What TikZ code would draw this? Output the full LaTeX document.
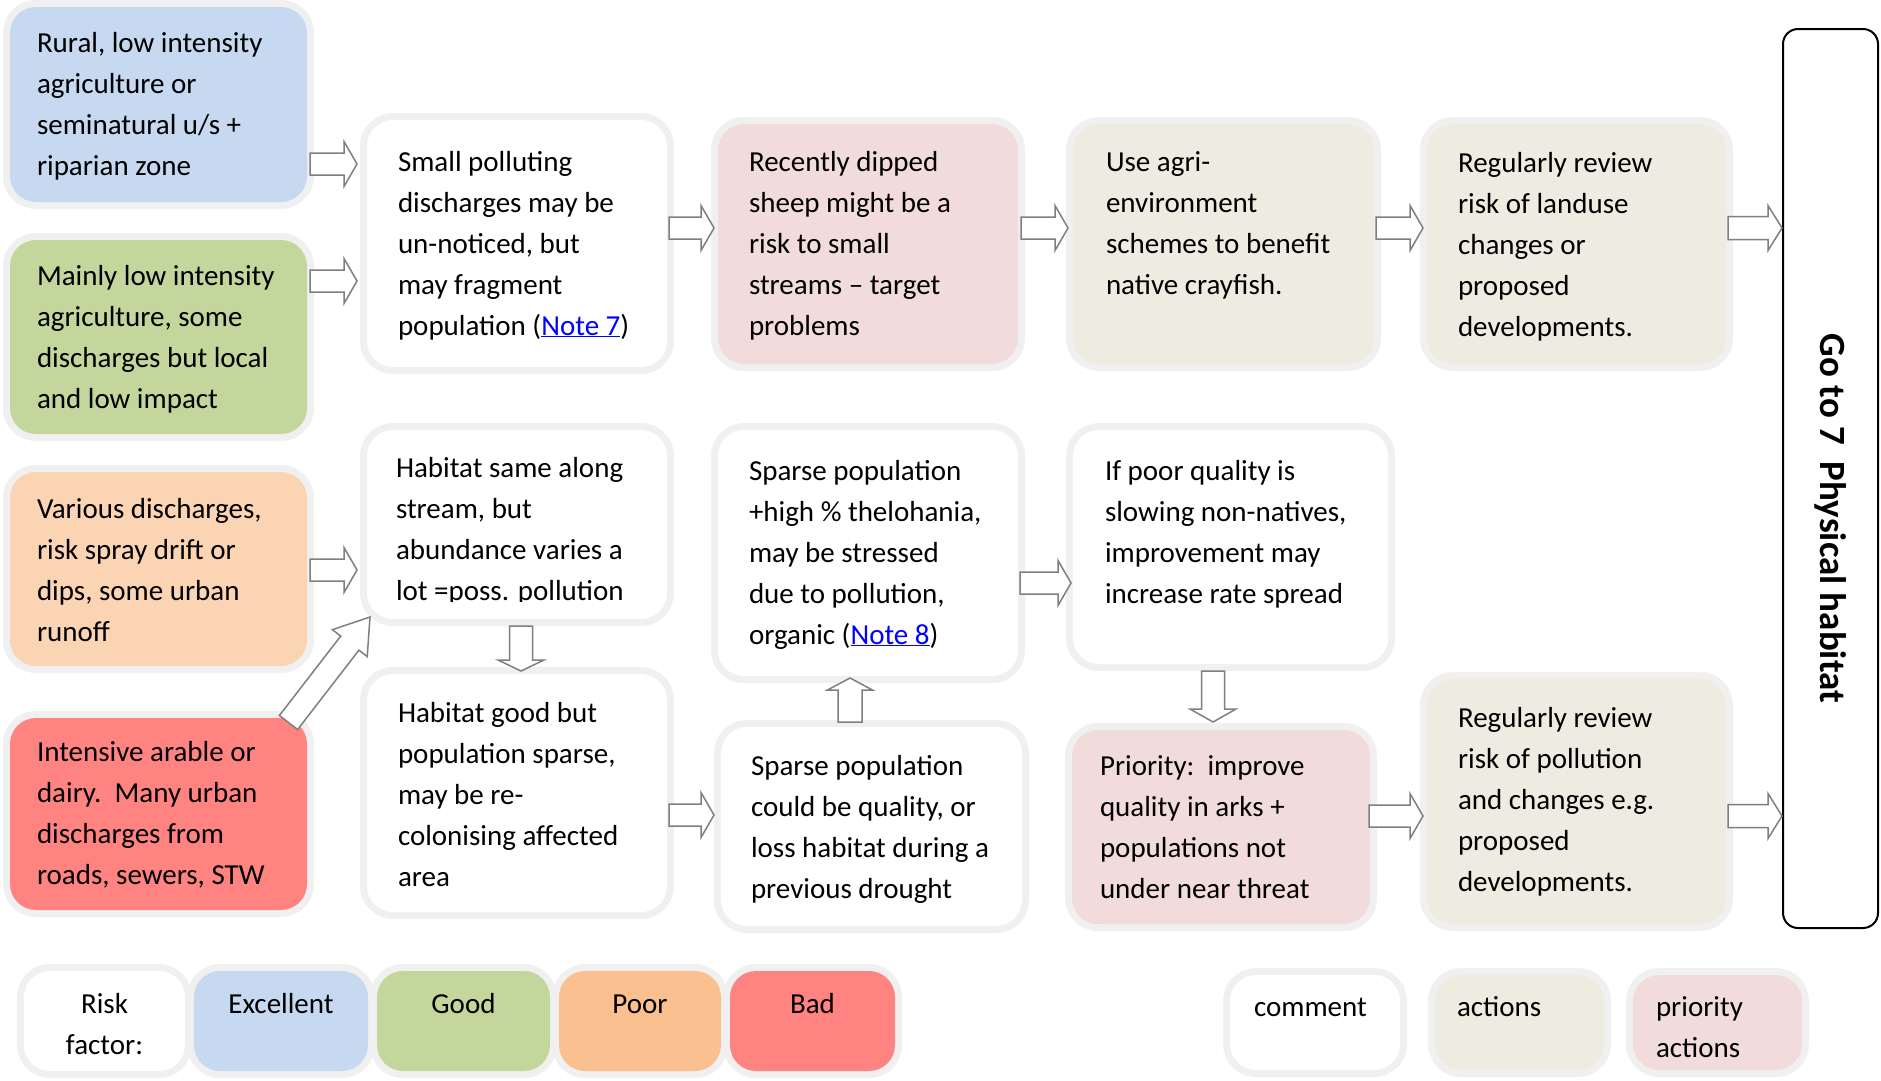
\documentclass[tikz,border=0pt]{standalone}
\usepackage{fontspec}
\setmainfont{Carlito}
\usepackage{graphicx}
\usetikzlibrary{calc}

\definecolor{framegrey}{HTML}{F0F0F0}
\definecolor{arrowgrey}{HTML}{7F7F7F}
\definecolor{cexcellent}{HTML}{C6D9F1}
\definecolor{cgood}{HTML}{C3D69B}
\definecolor{cpoorbox}{HTML}{FBD4B4}
\definecolor{cpoor}{HTML}{FAC090}
\definecolor{cbad}{HTML}{FF8481}
\definecolor{cpriority}{HTML}{F2DCDB}
\definecolor{caction}{HTML}{EEECE1}
\definecolor{linkblue}{HTML}{0000FF}

% text block of a panel: width, height, left padding, first baseline, text
\newcommand\boxtext[5]{\parbox[c][#2][t]{#1}{\raggedright\leftskip=#3\relax
  \vspace*{\dimexpr#4-\ht\strutbox\relax}\strut#5}}
% centred variant: width, height, first baseline, text
\newcommand\boxtextc[4]{\parbox[c][#2][t]{#1}{\centering
  \vspace*{\dimexpr#3-\ht\strutbox\relax}\strut#4}}
\newcommand\lnk[1]{\textcolor{linkblue}{\underline{#1}}}

% block arrow: half shaft, half head, head length, start, end
\newcommand\blockarrow[5]{%
  \coordinate (ba-s) at #4;
  \coordinate (ba-e) at #5;
  \coordinate (ba-c) at ($(ba-e)!#3!(ba-s)$);
  \draw[blockarr] ($(ba-s)!#1!90:(ba-e)$) -- ($(ba-c)!#1!90:(ba-e)$)
    -- ($(ba-c)!#2!90:(ba-e)$) -- (ba-e) -- ($(ba-c)!#2!-90:(ba-e)$)
    -- ($(ba-c)!#1!-90:(ba-e)$) -- ($(ba-s)!#1!-90:(ba-e)$) -- cycle;}

\tikzset{
  paneltext/.style={rectangle, inner sep=0pt, outer sep=0pt,
    anchor=north west, font=\fontsize{29}{41}\selectfont},
  panel/.style={paneltext, rounded corners=26pt,
    preaction={draw=framegrey, line width=14pt}},
  gobox/.style={rectangle, rounded corners=15pt, draw=black, line width=2pt,
    fill=white, inner sep=0pt, anchor=north west,
    font=\bfseries\fontsize{37}{44}\selectfont},
  blockarr/.style={draw=arrowgrey, fill=white, line width=1.5pt, line join=miter},
}

\begin{document}
\begin{tikzpicture}[x=1pt, y=-1pt]
\useasboundingbox (0,0) rectangle (1881,1080);
\fill[white] (0,0) rectangle (1881,1080);

% risk factor column
\node[panel, fill=cexcellent] (rural) at (10,7)
  {\boxtext{297pt}{195pt}{27pt}{45pt}{Rural, low intensity\\agriculture or\\seminatural u/s +\\riparian zone}};
\node[panel, fill=cgood] (mainly) at (10,240)
  {\boxtext{297pt}{194pt}{27pt}{45pt}{Mainly low intensity\\agriculture, some\\discharges but local\\and low impact}};
\node[panel, fill=cpoorbox] (various) at (10,472)
  {\boxtext{297pt}{194pt}{27pt}{46pt}{Various discharges,\\risk spray drift or\\dips, some urban\\runoff}};
\node[panel, fill=cbad] (intensive) at (10,718)
  {\boxtext{297pt}{192pt}{27pt}{43pt}{Intensive arable or\\dairy.\ \ Many urban\\discharges from\\roads, sewers, STW}};

% comments
\node[panel, fill=white] (small) at (367,120)
  {\boxtext{300pt}{247pt}{31pt}{51pt}{Small polluting\\discharges may be\\un-noticed, but\\may fragment\\population (\lnk{Note 7})}};
\node[panel, fill=white, minimum width=300pt, minimum height=189pt] (hsame) at (367,430) {};
\begin{scope}
  % the last line of this text runs past the text frame and is cut off
  \clip (367,430) rectangle (667,601);
  \node[paneltext] (hsametext) at (hsame.north west)
    {\boxtext{300pt}{189pt}{29pt}{47pt}{Habitat same along\\stream, but\\abundance varies a\\lot =poss. pollution}};
\end{scope}
\node[panel, fill=white] (hgood) at (367,674)
  {\boxtext{300pt}{238pt}{31pt}{48pt}{Habitat good but\\population sparse,\\may be re-\\colonising affected\\area}};

\node[panel, fill=cpriority] (dipped) at (718,124)
  {\boxtext{300pt}{240pt}{31pt}{47pt}{Recently dipped\\sheep might be a\\risk to small\\streams -- target\\problems}};
\node[panel, fill=white] (sparse1) at (718,430)
  {\boxtext{300pt}{246pt}{31pt}{50pt}{Sparse population\\+high \% thelohania,\\may be stressed\\due to pollution,\\organic (\lnk{Note 8})}};
\node[panel, fill=white] (sparse2) at (721,727)
  {\boxtext{301pt}{199pt}{30pt}{48pt}{Sparse population\\could be quality, or\\loss habitat during a\\previous drought}};

\node[panel, fill=caction] (agri) at (1073,124)
  {\boxtext{301pt}{240pt}{33pt}{47pt}{Use agri-\\environment\\schemes to benefit\\native crayfish.}};
\node[panel, fill=white] (ifpoor) at (1073,430)
  {\boxtext{315pt}{234pt}{32pt}{50pt}{If poor quality is\\slowing non-natives,\\improvement may\\increase rate spread}};
\node[panel, fill=cpriority] (priority) at (1072,730)
  {\boxtext{298pt}{194pt}{28pt}{45pt}{Priority:\ \ improve\\quality in arks +\\populations not\\under near threat}};

\node[panel, fill=caction] (review1) at (1427,124)
  {\boxtext{299pt}{240pt}{31pt}{48pt}{Regularly review\\risk of landuse\\changes or\\proposed\\developments.}};
\node[panel, fill=caction] (review2) at (1427,679)
  {\boxtext{299pt}{245pt}{31pt}{48pt}{Regularly review\\risk of pollution\\and changes e.g.\\proposed\\developments.}};

\node[gobox, minimum width=95pt, minimum height=899pt] (goto) at (1782,28)
  {\rotatebox{-90}{\hspace*{80pt}Go to 7\ \ Physical habitat}};

% legends
\node[panel, fill=white] (lrisk) at (24,971) {\boxtextc{161pt}{100pt}{42pt}{Risk\\factor:}};
\node[panel, fill=cexcellent] (lexc) at (194,971) {\boxtextc{174pt}{100pt}{42pt}{Excellent}};
\node[panel, fill=cgood] (lgood) at (377,971) {\boxtextc{173pt}{100pt}{42pt}{Good}};
\node[panel, fill=cpoor] (lpoor) at (559,971) {\boxtextc{162pt}{100pt}{42pt}{Poor}};
\node[panel, fill=cbad] (lbad) at (730,971) {\boxtextc{165pt}{100pt}{42pt}{Bad}};

\node[panel, fill=white] (lcomment) at (1230,975) {\boxtext{170pt}{95pt}{24pt}{41pt}{comment}};
\node[panel, fill=caction] (laction) at (1435,975) {\boxtext{169pt}{95pt}{22pt}{41pt}{actions}};
\node[panel, fill=cpriority] (lprio) at (1633,975) {\boxtext{169pt}{95pt}{23pt}{41pt}{priority\\actions}};

% arrows
\blockarrow{11pt}{22.5pt}{13pt}{($(rural.east|-0,164)+(3,0)$)}{($(small.west|-0,164)+(-10,0)$)}
\blockarrow{11pt}{22.5pt}{13pt}{($(mainly.east|-0,281)+(3,0)$)}{($(small.west|-0,281)+(-10,0)$)}
\blockarrow{11pt}{22.5pt}{13pt}{($(various.east|-0,570)+(3,0)$)}{($(hsame.west|-0,570)+(-10,0)$)}
\blockarrow{11.5pt}{22pt}{33pt}{($(intensive.north east)+(-18.5,4.5)$)}{($(hsame.south west)+(3,-2)$)}
\blockarrow{11.5pt}{23pt}{11pt}{($(hsame.south)+(4,7)$)}{($(hgood.north)+(4,-3)$)}
\blockarrow{11pt}{22.5pt}{13pt}{($(small.east|-0,228)+(2,0)$)}{($(dipped.west|-0,228)+(-4,0)$)}
\blockarrow{11pt}{22.5pt}{13pt}{($(dipped.east|-0,228)+(3,0)$)}{($(agri.west|-0,228)+(-5,0)$)}
\blockarrow{11pt}{22.5pt}{13pt}{($(agri.east|-0,228)+(2,0)$)}{($(review1.west|-0,228)+(-4,0)$)}
\blockarrow{11.5pt}{22.5pt}{14pt}{($(review1.east|-0,228)+(2,0)$)}{(goto.west|-0,228)}
\blockarrow{11pt}{22.5pt}{13pt}{($(hgood.east|-0,815)+(2,0)$)}{($(sparse2.west|-0,815)+(-7,0)$)}
\blockarrow{12pt}{22.5pt}{12pt}{($(sparse2.north)+(-21.5,-5)$)}{($(sparse1.south)+(-18,2)$)}
\blockarrow{11pt}{22.5pt}{13pt}{($(sparse1.east|-0,583)+(2,0)$)}{($(ifpoor.west|-0,583)+(-2,0)$)}
\blockarrow{11.5pt}{23pt}{13pt}{($(ifpoor.south)+(-17.5,7)$)}{($(priority.north)+(-8,-8)$)}
\blockarrow{11pt}{22.5pt}{13pt}{($(priority.east|-0,816)+(-1,0)$)}{($(review2.west|-0,816)+(-4,0)$)}
\blockarrow{11.5pt}{22.5pt}{14pt}{($(review2.east|-0,816)+(2,0)$)}{(goto.west|-0,816)}
\end{tikzpicture}
\end{document}
